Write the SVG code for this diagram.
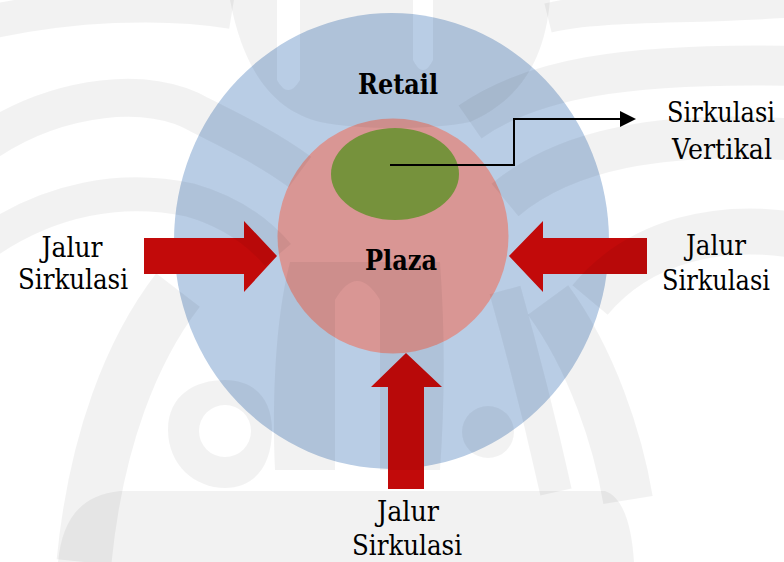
<svg xmlns="http://www.w3.org/2000/svg" width="784" height="562" viewBox="0 0 784 562">
  <style>
    .arrow { fill: #C20A0A; }
    .wm { fill: #000; fill-opacity: 0.05; }
    .wms { fill: none; stroke: #000; stroke-opacity: 0.05; stroke-linecap: butt; }
    .lbl { font-family: "DejaVu Serif", "Liberation Serif", serif; font-size: 28px; fill: #000; text-anchor: middle; }
    .b { font-weight: bold; }
  </style>
  <defs>
    <marker id="ah" markerWidth="18" markerHeight="16" refX="2" refY="8" orient="auto" markerUnits="userSpaceOnUse">
      <path d="M2,0 L18,8 L2,16 Z" fill="#000"/>
    </marker>
  </defs>
  <rect width="784" height="562" fill="#fff"/>

  <g id="retail">
    <ellipse cx="391.5" cy="241" rx="217.5" ry="228" fill="#B9CDE5"/>
  </g>
  <g id="plaza">
    <ellipse cx="393" cy="236" rx="115.5" ry="117.5" fill="#D99694"/>
  </g>
  <g id="sirkulasi-vertikal">
    <ellipse cx="395" cy="174" rx="64" ry="46" fill="#76923C"/>
  </g>

  <g id="arrow-left">
    <polygon class="arrow" points="144,238 244,238 244,221 277,256 244,292 244,274 144,274"/>
  </g>
  <g id="arrow-right">
    <polygon class="arrow" points="647,238 543,238 543,221 509,256 543,292 543,274 647,274"/>
  </g>
  <g id="arrow-bottom">
    <polygon class="arrow" points="388,489 388,387 371,387 406,353 442,387 424,387 424,489"/>
  </g>

  <g id="watermark">
    <path class="wm" d="M230,0 H277 V80 Q288,100 300,80 V0 H413 V60 Q423,80 433,60 V0 H550 C545,60 520,100 470,122 C430,130 360,130 320,122 C280,112 245,80 230,0 Z"/>
    <path class="wms" stroke-width="34" d="M-10,22 C70,5 160,0 232,12"/>
    <path class="wms" stroke-width="38" d="M-10,140 C60,95 150,85 200,115 C240,135 270,150 300,172"/>
    <path class="wms" stroke-width="34" d="M-10,240 C50,200 120,185 190,200 C225,210 255,228 278,255"/>
    <path class="wms" stroke-width="30" d="M548,18 C600,5 690,10 800,2"/>
    <path class="wms" stroke-width="40" d="M470,122 C530,80 620,62 800,66"/>
    <path class="wms" stroke-width="42" d="M505,200 C565,150 660,130 800,140"/>
    <path class="wms" stroke-width="46" d="M590,300 C640,240 720,222 800,236"/>
    <path class="wm" fill-rule="evenodd" d="M275,470 C272,400 275,320 290,262 L440,262 C445,330 445,400 440,470 Z M335,470 V300 Q357,262 380,300 V470 Z"/>
    <path class="wms" stroke-width="32" d="M505,290 C522,350 540,420 556,492"/>
    <path class="wms" stroke-width="55" d="M178,290 C132,350 96,440 84,562"/>
    <path class="wms" stroke-width="50" d="M548,300 C592,360 618,440 628,500"/>
    <path class="wm" fill-rule="evenodd" d="M168,430 C168,395 195,380 225,380 C255,380 272,400 272,430 C272,465 255,488 225,488 C195,488 168,465 168,430 Z M199,431 A26,26 0 1,0 251,431 A26,26 0 1,0 199,431 Z"/>
    <path class="wm" d="M58,562 C62,520 80,495 120,491 H605 C625,498 632,530 634,562 Z"/>
    <circle class="wm" cx="488" cy="432" r="26"/>
  </g>

  <g id="connectors">
    <path d="M390,165 H514 V119 H620" fill="none" stroke="#000" stroke-width="2" marker-end="url(#ah)"/>
  </g>

  <g id="labels">
    <text class="lbl b" x="398" y="94" textLength="80" lengthAdjust="spacingAndGlyphs">Retail</text>
    <text class="lbl b" x="401" y="270" textLength="72" lengthAdjust="spacingAndGlyphs">Plaza</text>
    <text class="lbl" x="721" y="122" textLength="108" lengthAdjust="spacingAndGlyphs">Sirkulasi</text>
    <text class="lbl" x="722" y="159" textLength="100" lengthAdjust="spacingAndGlyphs">Vertikal</text>
    <text class="lbl" x="72" y="257" textLength="61" lengthAdjust="spacingAndGlyphs">Jalur</text>
    <text class="lbl" x="73" y="289" textLength="110" lengthAdjust="spacingAndGlyphs">Sirkulasi</text>
    <text class="lbl" x="716" y="255" textLength="60" lengthAdjust="spacingAndGlyphs">Jalur</text>
    <text class="lbl" x="716" y="290" textLength="108" lengthAdjust="spacingAndGlyphs">Sirkulasi</text>
    <text class="lbl" x="408" y="521" textLength="62" lengthAdjust="spacingAndGlyphs">Jalur</text>
    <text class="lbl" x="407" y="555" textLength="110" lengthAdjust="spacingAndGlyphs">Sirkulasi</text>
  </g>
</svg>
